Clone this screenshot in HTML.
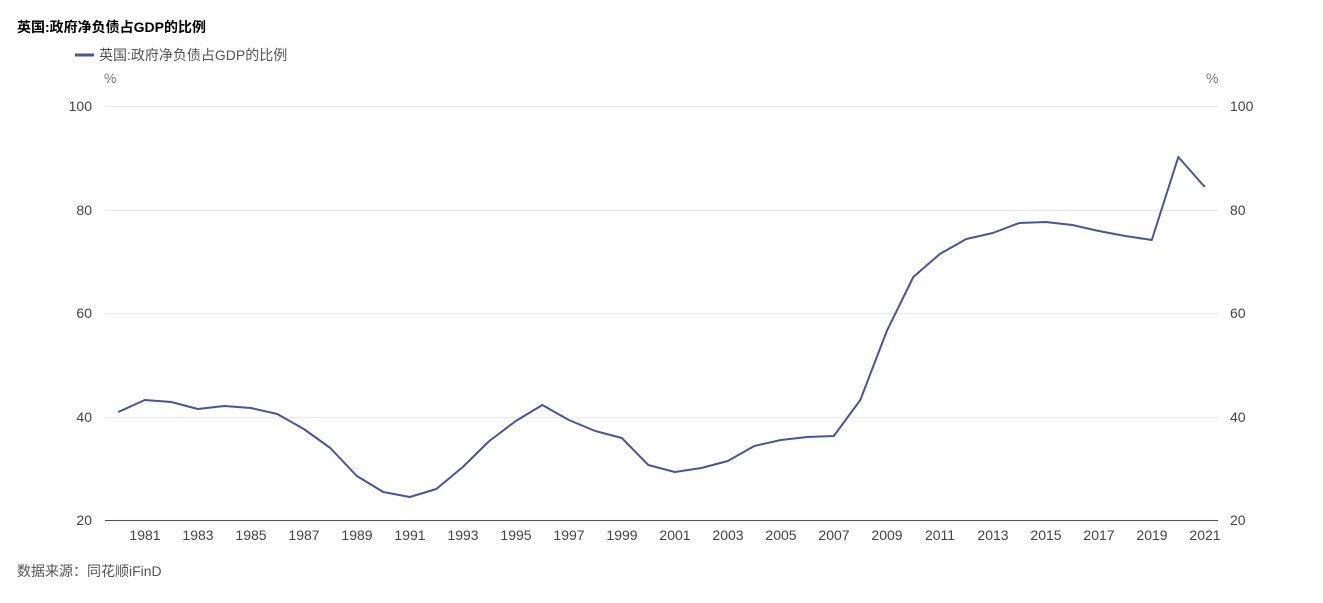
<!DOCTYPE html>
<html><head><meta charset="utf-8"><style>
body{margin:0;background:#fff;width:1323px;height:598px;overflow:hidden;font-family:"Liberation Sans","Noto Sans CJK SC",sans-serif;}
</style></head><body>
<svg width="1323" height="598" xmlns="http://www.w3.org/2000/svg" font-family="Liberation Sans, Noto Sans CJK SC, sans-serif">
<text x="17" y="32" font-size="14" font-weight="bold" fill="#000">英国:政府净负债占GDP的比例</text>
<line x1="75" y1="55" x2="94" y2="55" stroke="#4b5496" stroke-width="3"/>
<text x="99" y="60" font-size="14" fill="#555">英国:政府净负债占GDP的比例</text>
<text x="104" y="83" font-size="14" fill="#777">%</text>
<text x="1206" y="83" font-size="14" fill="#777">%</text>
<g stroke="#e8e9f2" stroke-width="1">
<line x1="105" y1="106.5" x2="1218" y2="106.5"/>
<line x1="105" y1="210.5" x2="1218" y2="210.5"/>
<line x1="105" y1="313.5" x2="1218" y2="313.5"/>
<line x1="105" y1="417.5" x2="1218" y2="417.5"/>
</g>
<line x1="105" y1="520.5" x2="1218" y2="520.5" stroke="#4a5270" stroke-width="1"/>
<g font-size="14" fill="#444" text-anchor="end">
<text x="92" y="111">100</text><text x="92" y="215">80</text><text x="92" y="318">60</text><text x="92" y="422">40</text><text x="92" y="525">20</text>
</g>
<g font-size="14" fill="#444" text-anchor="start">
<text x="1230" y="111">100</text><text x="1230" y="215">80</text><text x="1230" y="318">60</text><text x="1230" y="422">40</text><text x="1230" y="525">20</text>
</g>
<g font-size="14" fill="#444" text-anchor="middle">
<text x="145" y="540">1981</text><text x="198" y="540">1983</text><text x="251" y="540">1985</text><text x="304" y="540">1987</text><text x="357" y="540">1989</text><text x="410" y="540">1991</text><text x="463" y="540">1993</text><text x="516" y="540">1995</text><text x="569" y="540">1997</text><text x="622" y="540">1999</text><text x="675" y="540">2001</text><text x="728" y="540">2003</text><text x="781" y="540">2005</text><text x="834" y="540">2007</text><text x="887" y="540">2009</text><text x="940" y="540">2011</text><text x="993" y="540">2013</text><text x="1046" y="540">2015</text><text x="1099" y="540">2017</text><text x="1152" y="540">2019</text><text x="1205" y="540">2021</text>
</g>
<polyline fill="none" stroke="#4b5496" stroke-width="2" stroke-linejoin="round" points="
118.3,412 144.8,400 171.3,402 197.8,409 224.3,406 250.8,408 277.3,414 303.8,429 330.3,448 356.8,476 383.3,492 409.8,497 436.3,489 462.8,467 489.3,441 515.8,421 542.3,405 568.8,420 595.3,431 621.8,438 648.3,465 674.8,472 701.3,468 727.8,461 754.3,446 780.8,440 807.3,437 833.8,436 860.3,400 886.8,331 913.3,277 939.8,254 966.3,239 992.8,233 1019.3,223 1045.8,222 1072.3,225 1098.8,231 1125.3,236 1151.8,240 1178.3,157 1204.8,187"/>
<text x="17" y="576" font-size="14" fill="#555">数据来源：同花顺iFinD</text>
</svg>
</body></html>
